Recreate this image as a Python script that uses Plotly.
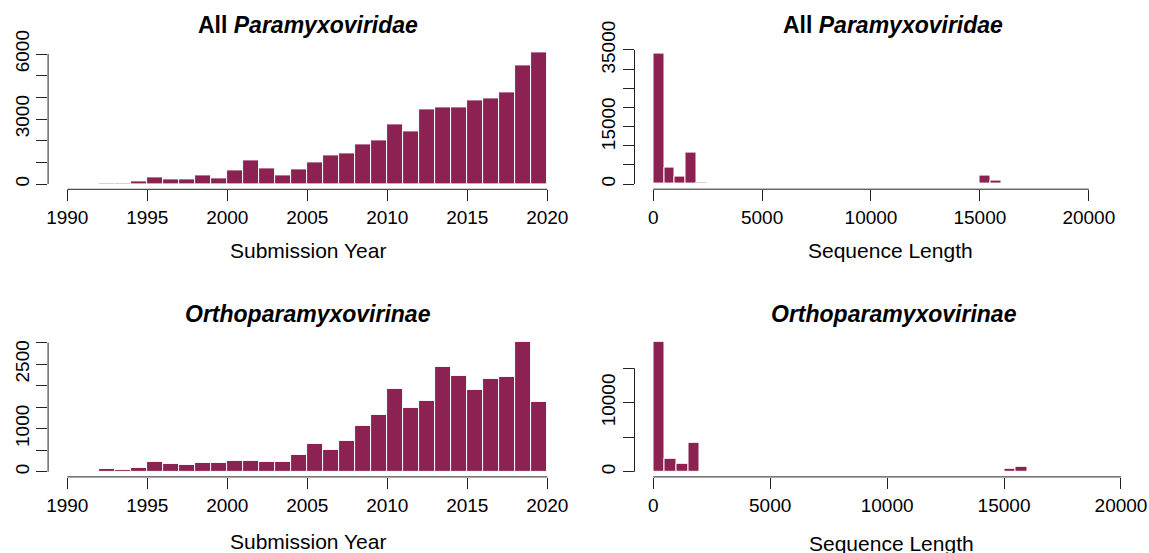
import plotly.graph_objects as go

W, H = 1149, 553
BAR = "#8B2252"
FONT = "Liberation Sans, Arial, Helvetica, sans-serif"
AXC = "#222222"

# ---------------- data ----------------
years = [1992, 1993, 1994, 1995, 1996, 1997, 1998, 1999, 2000, 2001,
         2002, 2003, 2004, 2005, 2006, 2007, 2008, 2009, 2010, 2011,
         2012, 2013, 2014, 2015, 2016, 2017, 2018, 2019]
all_year_counts = [47, 47, 124, 310, 233, 217, 403, 279, 620, 1085,
                   713, 419, 667, 1008, 1318, 1426, 1829, 2016, 2775, 2450,
                   3426, 3535, 3535, 3860, 3969, 4217, 5488, 6062]
ortho_year_counts = [62, 46, 77, 231, 177, 162, 200, 216, 247, 254,
                     231, 231, 386, 656, 501, 717, 1064, 1326, 1936, 1473,
                     1643, 2445, 2229, 1913, 2167, 2198, 3015, 1620]

all_len_bins = [0, 500, 1000, 1500, 2000, 15000, 15500]
all_len_counts = [34000, 4200, 1870, 8160, 260, 2080, 780]
ortho_len_bins = [0, 500, 1000, 1500, 15000, 15500]
ortho_len_counts = [18800, 1820, 1180, 4160, 480, 725]

year_bin_width = 1
len_bin_width = 500

year_ticks = [1990, 1995, 2000, 2005, 2010, 2015, 2020]
len_ticks = [0, 5000, 10000, 15000, 20000]

tl_yticks = [0, 1000, 2000, 3000, 4000, 5000, 6000]
tl_ylabels = ["0", "", "", "3000", "", "", "6000"]
tr_yticks = [0, 5000, 10000, 15000, 20000, 25000, 30000, 35000]
tr_ylabels = ["0", "", "", "15000", "", "", "", "35000"]
bl_yticks = [0, 500, 1000, 1500, 2000, 2500, 3000]
bl_ylabels = ["0", "", "1000", "", "", "2500", ""]
br_yticks = [0, 5000, 10000, 15000]
br_ylabels = ["0", "", "10000", ""]

title_all = "<b>All <i>Paramyxoviridae</i></b>"
title_ortho = "<b><i>Orthoparamyxovirinae</i></b>"
xlab_year = "Submission Year"
xlab_len = "Sequence Length"

# ---------------- layout helpers ----------------
def px_x(p):
    return p / W

def px_y(p):
    return 1 - p / H

panels = [
    dict(bins=years, counts=all_year_counts, bw=year_bin_width, xt=year_ticks,
         yt=tl_yticks, yl=tl_ylabels, box=(48.1, 566.5, 47.4, 189.3),
         xr=[1988.8, 2021.2], yr=[-242.5, 6304.5], title=title_all, tpos=(307.5, 25),
         xlab=xlab_year, xpos=(307.5, 250)),
    dict(bins=all_len_bins, counts=all_len_counts, bw=len_bin_width, xt=len_ticks,
         yt=tr_yticks, yl=tr_ylabels, box=(634.5, 1139.7, 48.6, 189.2),
         xr=[-858, 22337], yr=[-1358, 35362], title=title_all, tpos=(893, 25),
         xlab=xlab_len, xpos=(890, 251)),
    dict(bins=years, counts=ortho_year_counts, bw=year_bin_width, xt=year_ticks,
         yt=bl_yticks, yl=bl_ylabels, box=(48.1, 566.5, 336.9, 476.9),
         xr=[1988.8, 2021.2], yr=[-121, 3135], title=title_ortho, tpos=(307.5, 313.5),
         xlab=xlab_year, xpos=(307.5, 541)),
    dict(bins=ortho_len_bins, counts=ortho_len_counts, bw=len_bin_width, xt=len_ticks,
         yt=br_yticks, yl=br_ylabels, box=(634.5, 1139.7, 336.8, 476.9),
         xr=[-800, 20800], yr=[-754, 19565], title=title_ortho, tpos=(894, 313.5),
         xlab=xlab_len, xpos=(891, 543)),
]

fig = go.Figure()
shapes = []
annotations = []
layout_axes = {}

for i, p in enumerate(panels, start=1):
    xa = "x" if i == 1 else f"x{i}"
    ya = "y" if i == 1 else f"y{i}"
    centers = [b + p["bw"] / 2 for b in p["bins"]]
    fig.add_trace(go.Bar(
        x=centers, y=p["counts"], width=[p["bw"]] * len(centers),
        marker=dict(color=BAR, line=dict(color="white", width=1)),
        xaxis=xa, yaxis=ya, showlegend=False,
        hovertemplate="%{x}: %{y}<extra></extra>",
    ))
    x0, x1, y0, y1 = p["box"]
    layout_axes["xaxis" if i == 1 else f"xaxis{i}"] = dict(
        domain=[px_x(x0), px_x(x1)], range=p["xr"], anchor=ya,
        tickmode="array", tickvals=p["xt"], ticktext=[str(t) for t in p["xt"]],
        ticks="outside", ticklen=11, tickwidth=1, tickcolor=AXC,
        showline=False, showgrid=False, zeroline=False, automargin=False,
        tickfont=dict(family=FONT, size=19, color="black"),
        fixedrange=True,
    )
    layout_axes["yaxis" if i == 1 else f"yaxis{i}"] = dict(
        domain=[px_y(y1), px_y(y0)], range=p["yr"], anchor=xa,
        tickmode="array", tickvals=p["yt"], ticktext=p["yl"], tickangle=-90,
        ticks="outside", ticklen=11, tickwidth=1, tickcolor=AXC,
        showline=False, showgrid=False, zeroline=False, automargin=False,
        tickfont=dict(family=FONT, size=19, color="black"),
        fixedrange=True,
    )
    # R-style axis lines spanning first to last tick
    shapes.append(dict(type="line", xref=xa, yref=f"{ya} domain",
                       x0=p["xt"][0], x1=p["xt"][-1], y0=0, y1=0,
                       line=dict(color=AXC, width=1)))
    shapes.append(dict(type="line", xref=f"{xa} domain", yref=ya,
                       x0=0, x1=0, y0=p["yt"][0], y1=p["yt"][-1],
                       line=dict(color=AXC, width=1)))
    annotations.append(dict(text=p["title"], xref="paper", yref="paper",
                            x=px_x(p["tpos"][0]), y=px_y(p["tpos"][1]),
                            xanchor="center", yanchor="middle", showarrow=False,
                            font=dict(family=FONT, size=23, color="black")))
    annotations.append(dict(text=p["xlab"], xref="paper", yref="paper",
                            x=px_x(p["xpos"][0]), y=px_y(p["xpos"][1]),
                            xanchor="center", yanchor="middle", showarrow=False,
                            font=dict(family=FONT, size=21, color="black")))

fig.update_layout(
    template="none",
    width=W, height=H,
    margin=dict(l=0, r=0, t=0, b=0, pad=0, autoexpand=False),
    paper_bgcolor="white", plot_bgcolor="white",
    bargap=0, barmode="overlay",
    shapes=shapes, annotations=annotations,
    font=dict(family=FONT, color="black"),
    **layout_axes,
)

fig.write_html(
    "out.html",
    config={"displayModeBar": False},
    post_script="document.body.style.margin='0';document.body.style.overflow='hidden';",
)
